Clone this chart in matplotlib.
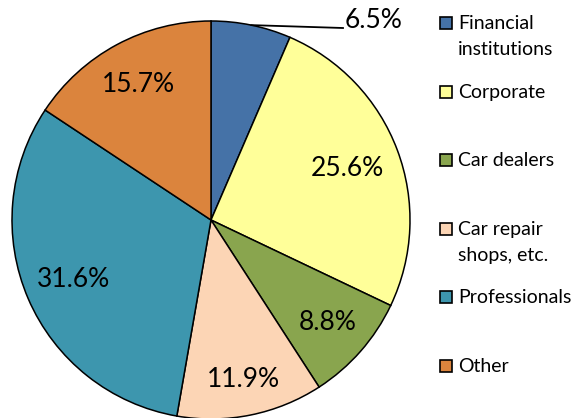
import matplotlib.pyplot as plt
from matplotlib.patches import Rectangle
import numpy as np

# Data
categories = ["Financial\ninstitutions", "Corporate", "Car dealers",
              "Car repair\nshops, etc.", "Professionals", "Other"]
shares = [6.5, 25.6, 8.8, 11.9, 31.6, 15.7]
colors = ["#4572A7", "#FFFF99", "#89A54E", "#FCD5B5", "#3D96AE", "#DB843D"]

plt.rcParams['font.family'] = ['Lato', 'DejaVu Sans']

W, H = 572, 418
fig = plt.figure(figsize=(W / 100, H / 100), dpi=100)
ax = fig.add_axes([0, 0, 1, 1])

# pie centre / radius in pixel units (y measured from bottom)
cx, cy, r = 211, H - 220, 199
wedges, _ = ax.pie(shares, colors=colors, startangle=90, counterclock=False,
                   center=(cx, cy), radius=r, frame=True,
                   wedgeprops=dict(edgecolor='black', linewidth=1.1))
ax.set_xlim(0, W)
ax.set_ylim(0, H)
ax.axis('off')

# percentage labels, radial distance as fraction of radius
label_dist = [None, 0.73, 0.78, 0.82, 0.75, 0.77]
for w, val, d in zip(wedges, shares, label_dist):
    ang = np.deg2rad((w.theta1 + w.theta2) / 2)
    txt = f"{val:.1f}%"
    if d is None:
        # small slice: label outside with leader line
        ex, ey = cx + r * np.cos(ang), cy + r * np.sin(ang)
        ax.plot([ex, 343], [ey, H - 28], color='black', lw=1.3)
        ax.text(345, H - 21, txt, ha='left', va='center', fontsize=19)
    else:
        ax.text(cx + d * r * np.cos(ang), cy + d * r * np.sin(ang), txt,
                ha='center', va='center', fontsize=19)

# legend drawn by hand so the box sits on the first line of each label
for i, (lab, col) in enumerate(zip(categories, colors)):
    yc = 23 + i * 68.6
    ax.add_patch(Rectangle((440, H - yc - 6), 12, 12, facecolor=col,
                           edgecolor='black', lw=1.2))
    for k, line in enumerate(lab.split("\n")):
        ax.text(458, H - (yc + 6 + k * 26), line, ha='left', va='baseline',
                fontsize=14)

plt.savefig("out.png", dpi=100)
